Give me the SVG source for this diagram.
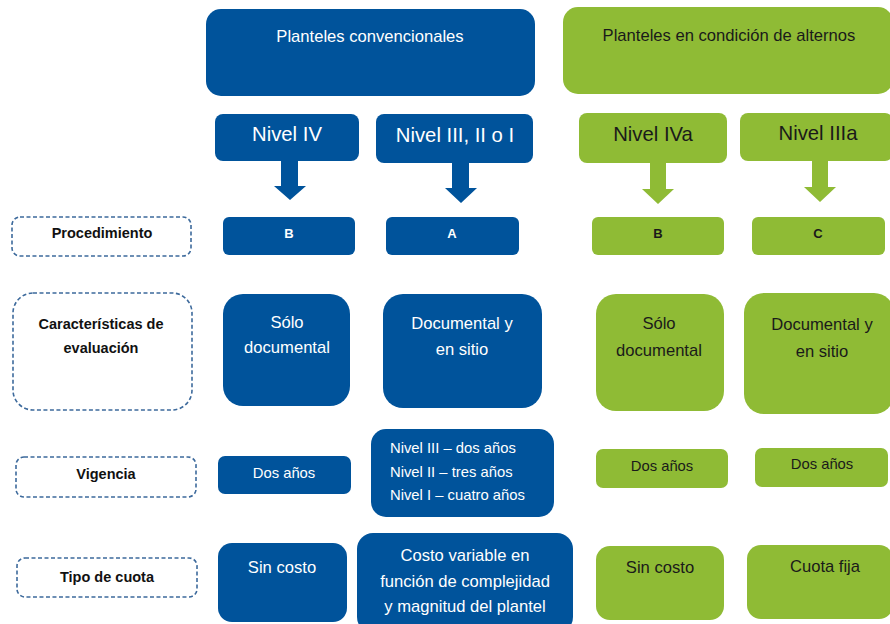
<svg xmlns="http://www.w3.org/2000/svg" width="890" height="624" viewBox="0 0 890 624">
<defs>
<style>
.b{fill:#00539b}
.g{fill:#8fbb35}
.d{fill:#fff;stroke:#3d6a9c;stroke-width:1.6;stroke-dasharray:4 2.5}
text{font-family:"Liberation Sans",Arial,sans-serif;text-anchor:middle}
.tw{fill:#fff}
.tk{fill:#1a1a1a}
.lb{font-weight:bold;font-size:14.5px;fill:#111}
.s15{font-size:16.6px}
.s13{font-size:14.8px}
.s19{font-size:20.3px}
.bold{font-weight:bold;font-size:13px}
</style>
</defs>
<rect width="890" height="624" fill="#fff"/>
<g id="connectors">
<polygon class="b" points="281,161 298,161 298,186 306,186 290,200 274,186 281,186"/>
<polygon class="b" points="452,163 469,163 469,188 477,188 461,203 445,188 452,188"/>
<polygon class="g" points="650,163 666,163 666,189 674,189 658,204 642,189 650,189"/>
<polygon class="g" points="812,161 828,161 828,187 836,187 820,202 804,187 812,187"/>
</g>
<g id="conv"><rect class="b" x="206" y="9" width="329" height="87" rx="15"/><text class="tw s15" x="370" y="42">Planteles convencionales</text></g>
<g id="alt"><rect class="g" x="563" y="7" width="330" height="87" rx="15"/><text class="tk s15" x="729" y="41">Planteles en condición de alternos</text></g>
<g id="niv4"><rect class="b" x="215" y="114" width="144" height="47" rx="8"/><text class="tw s19" x="287" y="141">Nivel IV</text></g>
<g id="niv321"><rect class="b" x="376" y="114" width="157" height="49" rx="8"/><text class="tw s19" x="455" y="142">Nivel III, II o I</text></g>
<g id="niv4a"><rect class="g" x="579" y="113" width="148" height="50" rx="8"/><text class="tk s19" x="653" y="141">Nivel IVa</text></g>
<g id="niv3a"><rect class="g" x="740" y="113" width="153" height="48" rx="8"/><text class="tk s19" x="818" y="140">Nivel IIIa</text></g>

<g id="lbl-proc"><rect class="d" x="12" y="217" width="179" height="39" rx="8"/><text class="lb" x="102" y="238">Procedimiento</text></g>
<g id="proc-b"><rect class="b" x="223" y="217" width="132" height="38" rx="6"/><text class="tw bold" x="289" y="238">B</text></g>
<g id="proc-a"><rect class="b" x="386" y="217" width="133" height="38" rx="6"/><text class="tw bold" x="452" y="238">A</text></g>
<g id="proc-gb"><rect class="g" x="592" y="217" width="132" height="38" rx="6"/><text class="tk bold" x="658" y="238">B</text></g>
<g id="proc-gc"><rect class="g" x="752" y="217" width="133" height="38" rx="6"/><text class="tk bold" x="818" y="238">C</text></g>

<g id="lbl-car"><rect class="d" x="13" y="293" width="179" height="117" rx="20"/><text class="lb" x="101" y="329">Características de</text><text class="lb" x="101" y="353">evaluación</text></g>
<g id="car-b1"><rect class="b" x="223" y="294" width="127" height="112" rx="20"/><text class="tw s15" x="287" y="328">Sólo</text><text class="tw s15" x="287" y="353">documental</text></g>
<g id="car-b2"><rect class="b" x="383" y="294" width="159" height="114" rx="20"/><text class="tw s15" x="462" y="329">Documental y</text><text class="tw s15" x="462" y="355">en sitio</text></g>
<g id="car-g1"><rect class="g" x="596" y="294" width="128" height="117" rx="20"/><text class="tk s15" x="659" y="329">Sólo</text><text class="tk s15" x="659" y="356">documental</text></g>
<g id="car-g2"><rect class="g" x="744" y="293" width="150" height="121" rx="20"/><text class="tk s15" x="822" y="330">Documental y</text><text class="tk s15" x="822" y="357">en sitio</text></g>

<g id="lbl-vig"><rect class="d" x="16" y="457" width="180" height="40" rx="8"/><text class="lb" x="106" y="479">Vigencia</text></g>
<g id="vig-b1"><rect class="b" x="218" y="456" width="133" height="38" rx="7"/><text class="tw s13" x="284" y="478">Dos años</text></g>
<g id="vig-b2"><rect class="b" x="371" y="429" width="183" height="88" rx="15"/><text class="tw s13" x="390" y="453" style="text-anchor:start">Nivel III – dos años</text><text class="tw s13" x="390" y="477" style="text-anchor:start">Nivel II – tres años</text><text class="tw s13" x="390" y="500" style="text-anchor:start">Nivel I – cuatro años</text></g>
<g id="vig-g1"><rect class="g" x="596" y="449" width="132" height="39" rx="7"/><text class="tk s13" x="662" y="471">Dos años</text></g>
<g id="vig-g2"><rect class="g" x="755" y="448" width="133" height="39" rx="7"/><text class="tk s13" x="822" y="469">Dos años</text></g>

<g id="lbl-tipo"><rect class="d" x="17" y="558" width="180" height="39" rx="8"/><text class="lb" x="107" y="582">Tipo de cuota</text></g>
<g id="tipo-b1"><rect class="b" x="218" y="543" width="129" height="79" rx="14"/><text class="tw s15" x="282" y="573">Sin costo</text></g>
<g id="tipo-b2"><rect class="b" x="357" y="533" width="216" height="100" rx="16"/><text class="tw s15" x="465" y="561">Costo variable en</text><text class="tw s15" x="465" y="587">función de complejidad</text><text class="tw s15" x="465" y="612">y magnitud del plantel</text></g>
<g id="tipo-g1"><rect class="g" x="596" y="546" width="128" height="74" rx="14"/><text class="tk s15" x="660" y="573">Sin costo</text></g>
<g id="tipo-g2"><rect class="g" x="747" y="545" width="146" height="74" rx="14"/><text class="tk s15" x="825" y="572">Cuota fija</text></g>
</svg>
